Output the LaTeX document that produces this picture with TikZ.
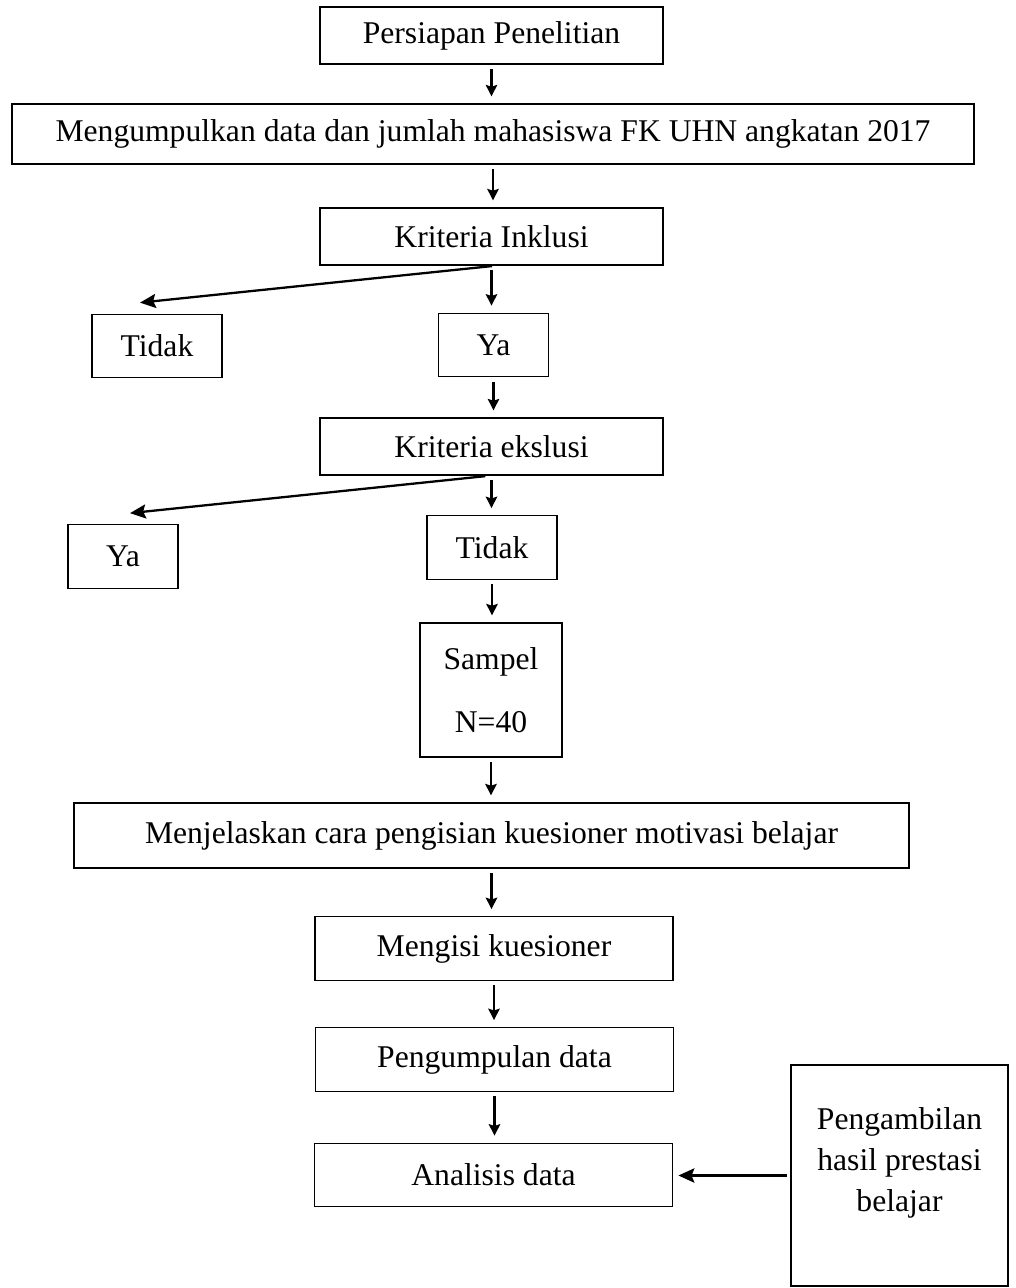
\documentclass[tikz,border=0pt]{standalone}
\usepackage{fontspec}
\setmainfont{Liberation Serif}
\usepackage{tikz}
\usetikzlibrary{shapes.geometric, arrows.meta}
\tikzstyle{process} = [rectangle, minimum width=6.86cm, minimum height=1.14cm, align=center, draw=black, line width=0.7pt]
\tikzstyle{stepbox} = [rectangle, minimum width=7.16cm, minimum height=1.27cm, align=center, draw=black, line width=0.7pt]
\tikzstyle{widebox} = [rectangle, minimum height=1.2cm, align=center, draw=black, line width=0.7pt]
\tikzstyle{choice} = [rectangle, minimum width=2.2cm, minimum height=1.27cm, align=center, draw=black, line width=0.7pt]
\tikzstyle{arrow} = [line width=1.3pt, -{Stealth[length=6.5pt,width=6.5pt,inset=1pt]}, shorten <=2.5pt, shorten >=4pt]
\tikzstyle{sidearrow} = [line width=1.3pt, -{Stealth[length=9pt,width=8pt,inset=1.5pt]}, shorten <=2.5pt]

\begin{document}
\begin{tikzpicture}[node distance=2cm, every node/.style={font=\fontsize{18pt}{23.3pt}\selectfont}]
	\useasboundingbox (0,0) rectangle (20.3,-25.76);
	
	% Nodes
	\node (persiapan) [process] at (9.83,-0.71) {Persiapan Penelitian};
	\node (kumpul) [widebox, below of=persiapan, xshift=0.03cm, yshift=0.03cm, minimum width=19.24cm] {Mengumpulkan data dan jumlah mahasiswa FK UHN angkatan 2017};
	\node (inklusi) [process, below of=kumpul, xshift=-0.03cm, yshift=-0.05cm] {Kriteria Inklusi};
	\node (ya1) [choice, below of=inklusi, xshift=0.04cm, yshift=-0.17cm] {Ya};
	\node (tidak1) [choice, left of=ya1, xshift=-4.73cm, yshift=-0.02cm, minimum width=2.6cm] {Tidak};
	\node (eksklusi) [process, below of=ya1, xshift=-0.04cm, yshift=-0.03cm] {Kriteria ekslusi};
	\node (tidak2) [choice, below of=eksklusi, xshift=0.01cm, yshift=-0.02cm, minimum width=2.6cm] {Tidak};
	\node (ya2) [choice, left of=tidak2, xshift=-5.38cm, yshift=-0.18cm] {Ya};
	\node (sampel) [choice, below of=tidak2, xshift=-0.02cm, yshift=-0.85cm, minimum width=2.84cm, minimum height=2.68cm] {Sampel\\[12.4pt]N=40};
	\node (jelas) [widebox, below of=sampel, xshift=0.01cm, yshift=-0.91cm, minimum width=16.7cm, minimum height=1.3cm] {Menjelaskan cara pengisian kuesioner motivasi belajar};
	\node (isi) [stepbox, below of=jelas, xshift=0.05cm, yshift=-0.26cm] {Mengisi kuesioner};
	\node (kumpuldata) [stepbox, below of=isi, xshift=0.01cm, yshift=-0.22cm] {Pengumpulan data};
	\node (analisis) [stepbox, below of=kumpuldata, xshift=-0.02cm, yshift=-0.31cm] {Analisis data};
	\node (ambil) [choice, right of=analisis, xshift=6.12cm, yshift=-0.01cm, minimum width=4.34cm, minimum height=4.42cm] {Pengambilan\\hasil prestasi\\belajar\\[-0.18cm]\mbox{}};
	
	% Arrows
	\draw [arrow] (persiapan.south) -- (persiapan.south |- kumpul.north);
	\draw [arrow] (kumpul.south) -- (kumpul.south |- inklusi.north);
	\draw [arrow] (inklusi.south) -- (inklusi.south |- ya1.north);
	\draw [sidearrow] ([xshift=0.1cm]inklusi.south) -- ([xshift=-0.34cm, yshift=0.22cm]tidak1.north);
	\draw [arrow] (ya1.south) -- (ya1.south |- eksklusi.north);
	\draw [arrow] (eksklusi.south) -- (eksklusi.south |- tidak2.north);
	\draw [sidearrow, shorten <=3pt] ([xshift=-0.02cm]eksklusi.south) -- ([xshift=0.14cm, yshift=0.22cm]ya2.north);
	\draw [arrow] (tidak2.south) -- (tidak2.south |- sampel.north);
	\draw [arrow] (sampel.south) -- (sampel.south |- jelas.north);
	\draw [arrow] (jelas.south) -- (jelas.south |- isi.north);
	\draw [arrow] (isi.south) -- (isi.south |- kumpuldata.north);
	\draw [arrow] (kumpuldata.south) -- (kumpuldata.south |- analisis.north);
	\draw [arrow, line width=1.7pt, -{Stealth[length=9pt,width=8pt,inset=1.5pt]}, shorten <=2pt, shorten >=3pt] (ambil.west) -- (ambil.west -| analisis.east);
	
\end{tikzpicture}
\end{document}
